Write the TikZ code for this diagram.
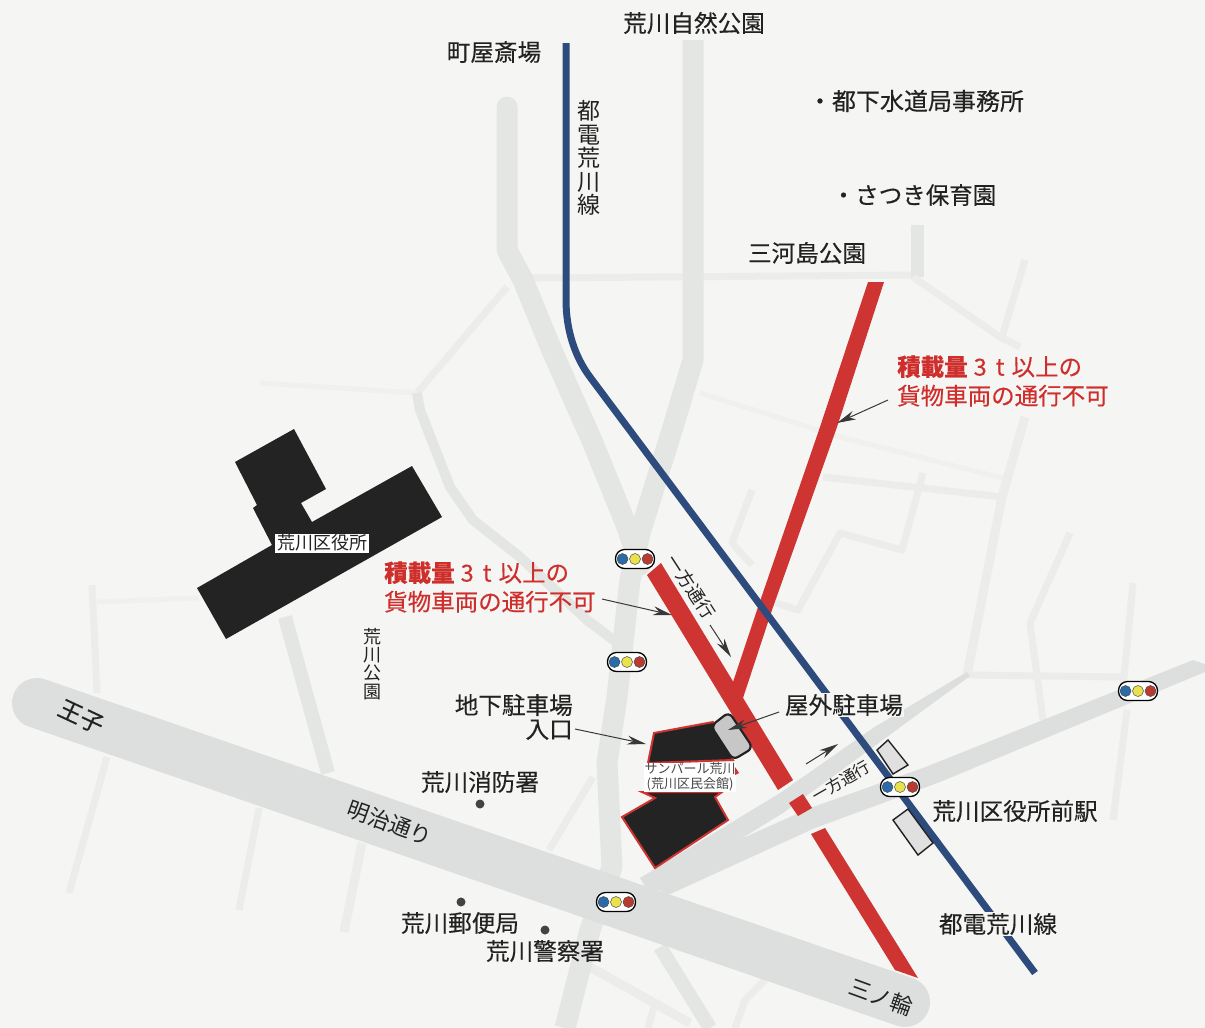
\documentclass[tikz,border=0pt]{standalone}
\usepackage{fontspec}
\setmainfont{Noto Sans CJK JP}
\newfontfamily\heavyish{Noto Sans CJK JP}[FakeBold=0.25]
\usetikzlibrary{arrows.meta}
\definecolor{paper}{HTML}{F5F5F3}
\definecolor{rmain}{HTML}{DDDFDE}
\definecolor{rmid}{HTML}{E4E6E4}
\definecolor{rthin}{HTML}{ECEDEB}
\definecolor{redline}{HTML}{CE3431}
\definecolor{blueline}{HTML}{2D4B7C}
\definecolor{bldg}{HTML}{232323}
\definecolor{ink}{HTML}{222222}
\definecolor{redtxt}{HTML}{CF2F2C}
\definecolor{sigblue}{HTML}{2A6BA8}
\definecolor{sigyellow}{HTML}{E9E24E}
\definecolor{sigred}{HTML}{B93A30}
\tikzset{
  x=1pt,y=-1pt,
  meiji/.style={draw=rmain,line width=50pt,line cap=round},
  roadwide/.style={draw=rmid,line width=21pt,line join=round},
  roadmed/.style={draw=rmid,line width=13pt,line join=round},
  roadthin/.style={draw=rthin,line width=7pt,line join=round},
  roadfaint/.style={draw=rthin!60!paper,line width=5pt,line join=round},
  lead/.style={draw=ink!90,line width=1pt,-{Stealth[length=19pt,width=9pt,inset=6pt]}},
  lbl/.style={font=\heavyish\fontsize{23.6}{27}\selectfont,text=ink,inner sep=0pt},
  redlbl/.style={font=\heavyish\fontsize{23.5}{29}\selectfont,text=redtxt,inner sep=0pt,align=left,anchor=west},
  small/.style={font=\fontsize{18}{19}\selectfont,text=ink,inner sep=0pt},
  pill/.style={draw=black,line width=1.3pt,fill=white,rounded corners=9pt,minimum width=39pt,minimum height=19pt,inner sep=0pt},
  platform/.style={draw=ink,line width=1.4pt,fill=black!12},
}
\newcommand{\tlight}[3]{%
  \node[pill] (#1) at (#2,#3) {};
  \fill[fill=sigblue,draw=black!70,line width=.5pt] ({#2-12.5},#3) circle[radius=5.5pt];
  \fill[fill=sigyellow,draw=black!70,line width=.5pt] (#2,#3) circle[radius=5.5pt];
  \fill[fill=sigred,draw=black!70,line width=.5pt] ({#2+12.5},#3) circle[radius=5.5pt];
}
\newcommand{\wloadA}{{\bfseries 積載量}\hspace{6pt}3\hspace{9pt}t\hspace{7pt}以上の}
\begin{document}
\begin{tikzpicture}
\useasboundingbox (0,0) rectangle (1205,1028);
\fill[paper] (0,0) rectangle (1205,1028);
% faint and thin streets
\draw[roadthin] (530,278) -- (917,275);
\draw[roadmed] (917,225) -- (917,277);
\draw[roadthin] (913,277) -- (1000,337) -- (1020,347);
\draw[roadthin] (1025,260) -- (1002,337);
\draw[roadfaint] (700,393) -- (840,437) -- (1010,480);
\draw[roadthin] (823,477) -- (1003,497);
\draw[roadthin,line width=9pt] (1025,417) -- (1002,497) -- (967,675);
\draw[roadthin] (923,473) -- (902,550) -- (840,533) -- (798,610) -- (767,600);
\draw[roadthin] (752,490) -- (732,543) -- (752,565);
\draw[roadthin] (1070,533) -- (1030,623) -- (1043,720);
\draw[roadthin] (1133,583) -- (1123,687);
\draw[roadthin] (1127,710) -- (1113,820);
\draw[roadthin] (967,675) -- (1123,677);
\draw[roadthin] (507,287) -- (417,393);
\draw[roadfaint] (417,393) -- (260,383);
\draw[roadmed,line width=10pt] (417,393) -- (420,410) -- (450,487) -- (473,520) -- (520,557) -- (587,620) -- (623,647);
\draw[roadthin] (92,585) -- (97,693);
\draw[roadfaint] (97,602) -- (198,598);
\draw[roadthin] (107,757) -- (69,893);
\draw[roadthin] (259,808) -- (239,910);
\draw[roadthin,line width=9pt] (362,843) -- (344,932);
\draw[roadmed,line width=14pt] (285,617) -- (328,773);
\draw[roadthin] (593,777) -- (549,850);
\draw[roadmed,line width=14pt] (660,947) -- (710,1028);
\draw[roadthin] (765,980) -- (745,1000) -- (735,1028);
\draw[roadthin,line width=9pt] (590,967) -- (690,1023);
\draw[roadthin] (655,1003) -- (648,1028);
% main roads
\draw[roadwide,line cap=round] (507,107) -- (507,250) -- (523,280) -- (553,353) -- (593,443) -- (627,527) -- (640,565);
\draw[roadwide] (693,40) -- (693,360) -- (673,427) -- (640,533) -- (630,580) -- (617,697) -- (607,763) -- (612,867) -- (590,930) -- (565,1028);
\draw[meiji] (37,703) -- (905,1002);
\fill[rmain] (640,878) -- (780,793) -- (873,728) -- (967,672) -- (970,676) -- (880,742) -- (783,813) -- (650,895) -- cycle;
\fill[rmain] (650,885) -- (723,847) -- (810,808) -- (923,768) -- (1193,660) -- (1205,664) -- (1205,672) -- (940,782) -- (815,828) -- (668,895) -- cycle;
% red routes
\fill[redline] (868,282) -- (884,282) -- (837,427) -- (772,610) -- (743,698) -- (728,690) -- (733,682) -- (757,610) -- (820,427) -- cycle;
\fill[redline] (647,575) -- (661,563) -- (793,780) -- (778,790) -- cycle;
\fill[redline] (789,803) -- (803,794) -- (812,808) -- (798,816) -- cycle;
\fill[redline] (811,834) -- (825,828) -- (918,978) -- (895,970) -- cycle;
% tram line
\draw[blueline,line width=7pt,line join=round] (566,43) -- (566,300) .. controls (566,330) and (575,357) .. (590,377) -- (1035,973);
% city office
\fill[bldg] (235,462) -- (294,429) -- (326,489) -- (301,503) -- (312,522) -- (412,466) -- (442,517) -- (226,639) -- (197,588) -- (272,545) -- (253,508) -- (257,505) -- cycle;
\node[draw=ink,line width=.5pt,fill=white,minimum width=95pt,minimum height=20pt,inner sep=0pt,font=\fontsize{18}{20}\selectfont,text=ink] (office) at (322,543) {荒川区役所};
% Sun Pearl Arakawa
\fill[bldg,draw=redline,line width=2pt] (654,733) -- (713,722) -- (733,760) -- (648,763) -- cycle;
\fill[bldg,draw=redline,line width=2pt] (642,792) -- (722,792) -- (715,797) -- (728,820) -- (655,868) -- (622,817) -- (655,798) -- cycle;
\draw[draw=ink,line width=2.2pt,fill=black!22,rounded corners=6pt] (711,726) -- (729,712) -- (753,748) -- (733,760) -- cycle;
\node[fill=white,inner sep=0pt,minimum width=92pt,minimum height=29pt,align=center,font=\fontsize{13}{14.5}\selectfont,text=black!72] (hall) at (690,777) {サンパール荒川\\(荒川区民会館)};
\fill[redline] (735,767) -- (739,773) -- (735,775) -- cycle;
% stations
\draw[platform] (888,740) -- (908,765) -- (893,774) -- (877,750) -- cycle;
\draw[platform] (908,809) -- (933,843) -- (918,855) -- (893,820) -- cycle;
% signals
\tlight{sigA}{635}{559}
\tlight{sigB}{627}{662}
\tlight{sigC}{900}{787}
\tlight{sigD}{1138}{691}
\tlight{sigE}{616}{902}
% dots
\fill[ink!85] (480,804) circle[radius=4.5pt];
\fill[ink!85] (461,902) circle[radius=4.5pt];
\fill[ink!85] (545,930) circle[radius=4.5pt];
% labels
\node[lbl] (machiya) at (494,52) {町屋斎場};
\node[lbl] (shizen) at (694,23) {荒川自然公園};
\node[lbl,font=\heavyish\fontsize{24}{27}\selectfont] (gesui) at (916,101) {・都下水道局事務所};
\node[lbl,font=\heavyish\fontsize{23.5}{27}\selectfont] (satsuki) at (914,195) {・さつき保育園};
\node[lbl] (mikawa) at (807,253) {三河島公園};
\node[lbl,align=center,font=\fontsize{23}{23.5}\selectfont] (toden) at (589,158) {都\\電\\荒\\川\\線};
\node[redlbl] (warnA) at (897,381) {\wloadA\\貨物車両の通行不可};
\node[redlbl] (warnB) at (384,587) {\wloadA\\貨物車両の通行不可};
\node[lbl,align=center,font=\fontsize{18}{18.3}\selectfont] (park) at (372,664) {荒\\川\\公\\園};
\node[lbl,align=right,font=\heavyish\fontsize{23.6}{24}\selectfont,anchor=east] (chika) at (573,717) {地下駐車場\\入口};
\node[lbl] (fire) at (480,782) {荒川消防署};
\node[lbl,rotate=-20,font=\fontsize{22}{24}\selectfont] (meijilbl) at (390,823) {明治通り};
\node[lbl,rotate=-25] (oji) at (81,717) {王子};
\node[lbl,rotate=-20,font=\fontsize{22}{24}\selectfont] (minowa) at (881,997) {三ノ輪};
\node[lbl] (post) at (460,923) {荒川郵便局};
\node[lbl] (police) at (545,951) {荒川警察署};
\node[lbl,fill=paper,inner sep=1pt] (outdoor) at (844,705) {屋外駐車場};
\node[lbl] (station) at (1015,811) {荒川区役所前駅};
\node[lbl,fill=paper,inner sep=1pt] (todenB) at (998,924) {都電荒川線};
\node[small,rotate=-57] (onewayA) at (691,587) {一方通行};
\node[small,rotate=30,font=\fontsize{16}{17}\selectfont] (onewayB) at (841,781) {一方通行};
% leaders
\coordinate (aS) at (602,599); \coordinate (aE) at (672,615);
\coordinate (bS) at (710,625); \coordinate (bE) at (731,657);
\coordinate (cS) at (779,712); \coordinate (cE) at (728,730);
\coordinate (dS) at (575,729); \coordinate (dE) at (646,744);
\coordinate (eS) at (806,764); \coordinate (eE) at (838,744);
\coordinate (fS) at (888,400); \coordinate (fE) at (837,423);
\draw[lead] (aS) -- (aE);
\draw[lead] (bS) -- (bE);
\draw[lead] (cS) -- (cE);
\draw[lead] (dS) -- (dE);
\draw[lead] (eS) -- (eE);
\draw[lead] (fS) -- (fE);
\end{tikzpicture}
\end{document}
